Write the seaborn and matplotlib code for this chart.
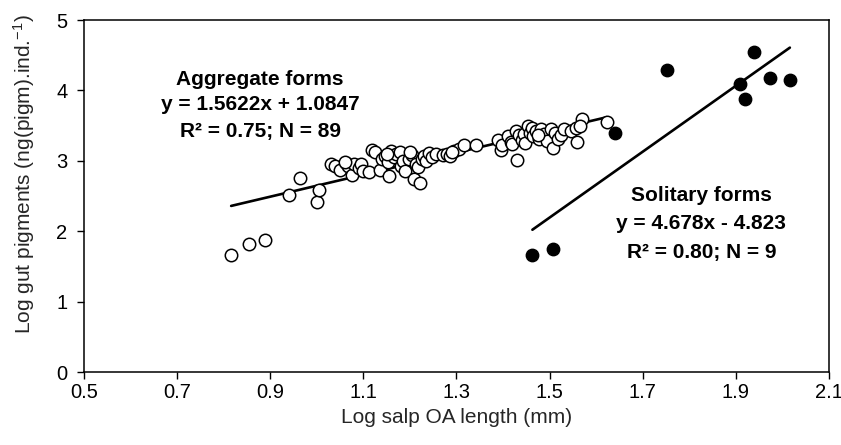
import matplotlib
matplotlib.use("Agg")
import matplotlib.pyplot as plt
import seaborn as sns
import pandas as pd
import numpy as np

# ---- data ----
agg_x = [0.816, 0.854, 0.889, 0.940, 0.963, 1.000, 1.005, 1.030, 1.040, 1.050,
         1.062, 1.068, 1.075, 1.080, 1.090, 1.094, 1.100, 1.112, 1.118, 1.126,
         1.135, 1.140, 1.147, 1.152, 1.155, 1.160, 1.165, 1.170, 1.178, 1.180,
         1.185, 1.190, 1.198, 1.205, 1.208, 1.212, 1.218, 1.222, 1.225, 1.230,
         1.235, 1.240, 1.248, 1.255, 1.270, 1.280, 1.285, 1.294, 1.305, 1.316,
         1.341, 1.390, 1.395, 1.398, 1.410, 1.418, 1.420, 1.427, 1.430, 1.435,
         1.440, 1.445, 1.448, 1.453, 1.458, 1.463, 1.465, 1.470, 1.477, 1.481,
         1.488, 1.495, 1.502, 1.508, 1.512, 1.517, 1.525, 1.531, 1.545, 1.556,
         1.558, 1.569, 1.565, 1.623, 1.200, 1.150, 1.060, 1.290, 1.475]
agg_y = [1.66, 1.82, 1.87, 2.51, 2.76, 2.42, 2.58, 2.96, 2.93, 2.87,
         2.97, 2.93, 2.80, 2.95, 2.90, 2.96, 2.85, 2.84, 3.15, 3.12,
         2.87, 3.02, 3.07, 2.98, 2.78, 3.14, 3.05, 3.10, 3.12, 2.93,
         3.00, 2.86, 3.03, 3.08, 2.74, 2.95, 2.91, 2.69, 3.02, 3.07,
         3.00, 3.11, 3.05, 3.10, 3.08, 3.10, 3.07, 3.14, 3.17, 3.22,
         3.22, 3.30, 3.15, 3.22, 3.35, 3.27, 3.24, 3.42, 3.01, 3.36,
         3.30, 3.38, 3.26, 3.50, 3.40, 3.47, 3.35, 3.42, 3.31, 3.45,
         3.38, 3.28, 3.45, 3.18, 3.40, 3.31, 3.36, 3.45, 3.42, 3.47,
         3.27, 3.59, 3.50, 3.55, 3.12, 3.10, 2.99, 3.12, 3.36]

sol_x = [1.463, 1.508, 1.640, 1.752, 1.909, 1.919, 1.939, 1.974, 2.016]
sol_y = [1.66, 1.75, 3.40, 4.29, 4.09, 3.88, 4.54, 4.17, 4.15]

# regression equations (from the chart text)
agg_slope, agg_icpt = 1.5622, 1.0847
sol_slope, sol_icpt = 4.678, -4.823

x_ticks = [0.5, 0.7, 0.9, 1.1, 1.3, 1.5, 1.7, 1.9, 2.1]
y_ticks = [0, 1, 2, 3, 4, 5]

agg_label = ["Aggregate forms", "y = 1.5622x + 1.0847", "R\u00b2 = 0.75; N = 89"]
sol_label = ["Solitary forms", "y = 4.678x - 4.823", "R\u00b2 = 0.80; N = 9"]

# ---- style ----
sns.set_theme(style="ticks")
plt.rcParams["font.family"] = ["Liberation Sans", "DejaVu Sans"]
plt.rcParams["mathtext.fontset"] = "custom"
plt.rcParams["mathtext.rm"] = "Liberation Sans"
plt.rcParams["mathtext.it"] = "Liberation Sans"

fig = plt.figure(figsize=(8.41, 4.45), dpi=100)
ax = fig.add_axes([0.0999, 0.164, 0.8858, 0.791])

df_agg = pd.DataFrame({"x": agg_x, "y": agg_y})
df_sol = pd.DataFrame({"x": sol_x, "y": sol_y})

sns.scatterplot(data=df_agg, x="x", y="y", ax=ax, s=80, facecolor="white",
                edgecolor="black", linewidth=1.1, zorder=3)
sns.scatterplot(data=df_sol, x="x", y="y", ax=ax, s=80, color="black",
                edgecolor="black", linewidth=1.0, zorder=3)

ax_line = [min(agg_x), max(agg_x)]
df_la = pd.DataFrame({"x": ax_line, "y": [agg_slope * v + agg_icpt for v in ax_line]})
sx_line = [min(sol_x), max(sol_x)]
df_ls = pd.DataFrame({"x": sx_line, "y": [sol_slope * v + sol_icpt for v in sx_line]})
sns.lineplot(data=df_la, x="x", y="y", ax=ax, color="black", linewidth=1.9, zorder=2)
sns.lineplot(data=df_ls, x="x", y="y", ax=ax, color="black", linewidth=1.9, zorder=2)

ax.set_xlim(0.5, 2.1)
ax.set_ylim(0, 5)
ax.set_xticks(x_ticks)
ax.set_xticklabels([f"{v:.1f}" for v in x_ticks])
ax.set_yticks(y_ticks)
ax.set_yticklabels([str(v) for v in y_ticks])
ax.tick_params(axis="both", direction="out", length=5, width=1.0,
               labelsize=14.5, colors="black")
ax.tick_params(axis="x", pad=3)
ax.tick_params(axis="y", pad=7)
for sp in ax.spines.values():
    sp.set_visible(True)
    sp.set_linewidth(1.1)
    sp.set_color("black")

ax.set_xlabel("Log salp OA length (mm)", fontsize=15, labelpad=4)
ax.set_ylabel("Log gut pigments (ng(pigm).ind.$^{-1}$)", fontsize=15)
ax.yaxis.set_label_coords(-0.063, 0.562)

for txt, yy in zip(agg_label, [4.15, 3.80, 3.41]):
    ax.text(0.878, yy, txt, ha="center", va="center", fontsize=15,
            fontweight="bold", color="black")
for txt, yy in zip(sol_label, [2.51, 2.11, 1.70]):
    ax.text(1.826, yy, txt, ha="center", va="center", fontsize=15,
            fontweight="bold", color="black")

fig.savefig("out.png", dpi=100)
